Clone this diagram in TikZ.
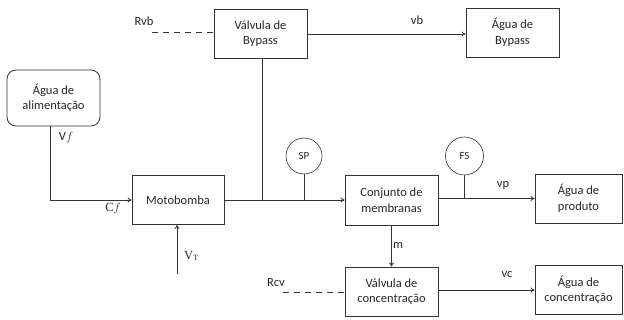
\documentclass[tikz,border=0pt]{standalone}
\usepackage{fontspec}
\setmainfont{Carlito}
\newfontfamily\serifx{Liberation Serif}
\usetikzlibrary{arrows.meta}
\begin{document}
\begin{tikzpicture}[x=1pt,y=-1pt,
  every node/.style={font=\fontsize{12.5}{15.5}\selectfont, text=black!85},
  blk/.style={draw=black!80, line width=0.8pt, minimum width=93pt, minimum height=49pt, align=center, inner sep=1pt},
  sens/.style={draw=black!80, line width=0.6pt, circle, minimum size=36pt, inner sep=0pt, font=\fontsize{11}{13}\selectfont},
  ln/.style={draw=black!80, line width=0.8pt},
  arr/.style={ln, -{To[length=4pt,width=5pt]}},
  dsh/.style={ln, dash pattern=on 6pt off 5pt},
  lbl/.style={inner sep=0pt}]
\useasboundingbox (0,0) rectangle (624,320);
\node[blk] (byp) at (260.5,33.5) {Válvula de\\Bypass};
\node[blk] (abyp) at (512.5,32.5) {Água de\\Bypass};
\node[blk, rounded corners=9pt, minimum height=56pt] (alim) at (53.5,98) {Água de\\alimentação};
\node[blk, minimum width=92pt] (mot) at (178,200) {Motobomba};
\node[blk, minimum height=50pt] (mem) at (391.5,200) {Conjunto de\\membranas};
\node[blk, minimum width=87pt] (prod) at (578.5,198.5) {Água de\\produto};
\node[blk] (vcon) at (391.5,291.5) {Válvula de\\concentração};
\node[blk, minimum width=87pt] (acon) at (578.5,290) {Água de\\concentração};
\node[sens] (sp) at (304,156) {SP};
\node[sens, minimum size=38pt] (fs) at (464.5,156) {FS};
% coordinates
\coordinate (rvb0) at (152,32);
\coordinate (rcv0) at (283,292);
\coordinate (vt0) at (177,274);
\coordinate (jb) at (262,200);
\coordinate (bb) at (262,58);
\coordinate (jsp) at (304,200);
\coordinate (jfs) at (464.5,198.5);
\coordinate (cf) at (50,200);
% connectors
\draw[dsh] (rvb0) -- (rvb0 -| byp.west);
\draw[dsh] (rcv0) -- (rcv0 -| vcon.west);
\draw[arr] (byp.east |- 0,34) -- (abyp.west |- 0,34);
\draw[ln] (alim.south -| cf) -- (cf);
\draw[arr] (cf) -- (mot.west);
\draw[arr] (vt0) -- (vt0 |- mot.south);
\draw[arr] (mot.east) -- (mem.west);
\draw[ln] (bb) -- (jb);
\draw[ln] (sp.south) -- (jsp);
\draw[arr] (mem.east |- jfs) -- (prod.west |- jfs);
\draw[ln] (fs.south) -- (jfs);
\draw[arr] (mem.south) -- (vcon.north);
\draw[arr] (vcon.east |- 0,290) -- (acon.west |- 0,290);
% labels
\node[lbl] (lrvb) at (144,21) {Rvb};
\node[lbl] (lvb) at (417,20) {vb};
\node[lbl] (lvf) at (66,138) {V$f$};
\node[lbl] (lcf) at (113,209) {{\serifx C}$f$};
\node[lbl] (lvt) at (191,256) {{\serifx V\raisebox{-0.3ex}{\fontsize{8}{9}\selectfont T}}};
\node[lbl] (lvp) at (503,185) {vp};
\node[lbl] (lm) at (398,245) {m};
\node[lbl] (lvc) at (507,275) {vc};
\node[lbl] (lrcv) at (276,283) {Rcv};
\end{tikzpicture}
\end{document}
